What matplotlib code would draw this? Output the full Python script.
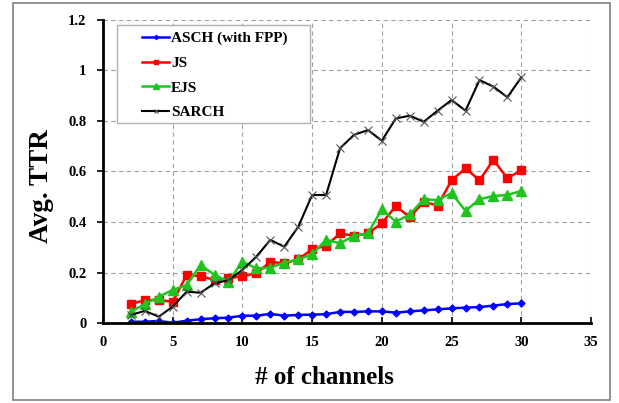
import matplotlib.pyplot as plt
from matplotlib.patches import Rectangle

channels = list(range(2, 31))

asch = [0.005, 0.005, 0.008, 0.001, 0.009, 0.015, 0.019, 0.021, 0.029, 0.029,
        0.036, 0.029, 0.032, 0.033, 0.035, 0.044, 0.044, 0.046, 0.046, 0.041,
        0.046, 0.050, 0.054, 0.058, 0.061, 0.063, 0.069, 0.075, 0.078]
js = [0.075, 0.091, 0.091, 0.084, 0.190, 0.186, 0.170, 0.177, 0.186, 0.197,
      0.242, 0.236, 0.252, 0.292, 0.306, 0.355, 0.345, 0.355, 0.395, 0.463,
      0.419, 0.480, 0.465, 0.565, 0.613, 0.565, 0.646, 0.573, 0.605]
ejs = [0.045, 0.075, 0.104, 0.131, 0.150, 0.230, 0.190, 0.164, 0.243, 0.216,
       0.219, 0.239, 0.252, 0.272, 0.329, 0.316, 0.345, 0.355, 0.451, 0.401,
       0.430, 0.490, 0.487, 0.514, 0.444, 0.490, 0.503, 0.507, 0.523]
sarch = [0.032, 0.048, 0.025, 0.065, 0.124, 0.120, 0.157, 0.170, 0.210, 0.263,
         0.329, 0.302, 0.381, 0.507, 0.507, 0.692, 0.745, 0.764, 0.722, 0.810,
         0.821, 0.797, 0.841, 0.883, 0.841, 0.962, 0.936, 0.894, 0.973]

xticks = [0, 5, 10, 15, 20, 25, 30, 35]
yticks = [0, 0.2, 0.4, 0.6, 0.8, 1, 1.2]
ytick_labels = ['0', '0.2', '0.4', '0.6', '0.8', '1', '1.2']

plt.rcParams['font.family'] = ['Liberation Serif', 'DejaVu Serif']
plt.rcParams['font.weight'] = 'bold'

fig = plt.figure(figsize=(6.19, 4.03), dpi=100)
ax = fig.add_axes([0.1664, 0.1985, 0.7884, 0.7519])

# outer frame around the whole picture
fig.patches.append(Rectangle((13 / 619, 3 / 403), 597 / 619, 397 / 403,
                             transform=fig.transFigure, fill=False,
                             edgecolor='#808080', linewidth=1.2))

ax.plot(channels, asch, color='#0000ff', marker='D', markersize=3.5,
        linewidth=1.8, label='ASCH (with FPP)')
ax.plot(channels, js, color='#ff0000', marker='s', markersize=6,
        linewidth=1.8, label='JS')
ax.plot(channels, ejs, color='#1fc41f', marker='^', markersize=6.5,
        linewidth=1.8, label='EJS')
ax.plot(channels, sarch, color='black', marker='x', markersize=6,
        markeredgecolor='#555555', markeredgewidth=0.8,
        linewidth=1.5, label='SARCH')

ax.set_xlim(0, 35)
ax.set_ylim(0, 1.2)
ax.set_xticks(xticks)
ax.set_yticks(yticks)
ax.set_yticklabels(ytick_labels)
ax.grid(True, linestyle=(0, (4, 3)), color='#a0a0a0', linewidth=0.8)
ax.set_axisbelow(True)

for s in ['top', 'right']:
    ax.spines[s].set_visible(False)
for s in ['left', 'bottom']:
    ax.spines[s].set_linewidth(2)

ax.tick_params(axis='y', direction='out', length=4, width=1.2, labelsize=10.5, pad=8)
ax.tick_params(axis='x', direction='in', length=4, width=1.2, labelsize=10.5, pad=9)
for lab in ax.get_xticklabels() + ax.get_yticklabels():
    lab.set_fontweight('bold')

ax.set_xlabel('# of channels', fontsize=18, fontweight='bold')
ax.set_ylabel('Avg. TTR', fontsize=19.5, fontweight='bold')
ax.xaxis.set_label_coords(0.453, -0.142)
ax.yaxis.set_label_coords(-0.10, 0.452)

# legend box like the original (wide side padding)
ax.add_patch(Rectangle((0.0287, 0.661), 0.3955, 0.3225, transform=ax.transAxes,
                       facecolor='white', edgecolor='#b0b0b0', linewidth=1.0,
                       zorder=4))
leg = ax.legend(loc='upper left', bbox_to_anchor=(0.0799, 0.962), frameon=False,
                borderpad=0, borderaxespad=0, handlelength=1.8, handletextpad=0.1,
                labelspacing=0.72, markerscale=0.6,
                prop={'weight': 'bold', 'size': 11})
leg.set_zorder(5)

fig.savefig('out.png', dpi=100)
